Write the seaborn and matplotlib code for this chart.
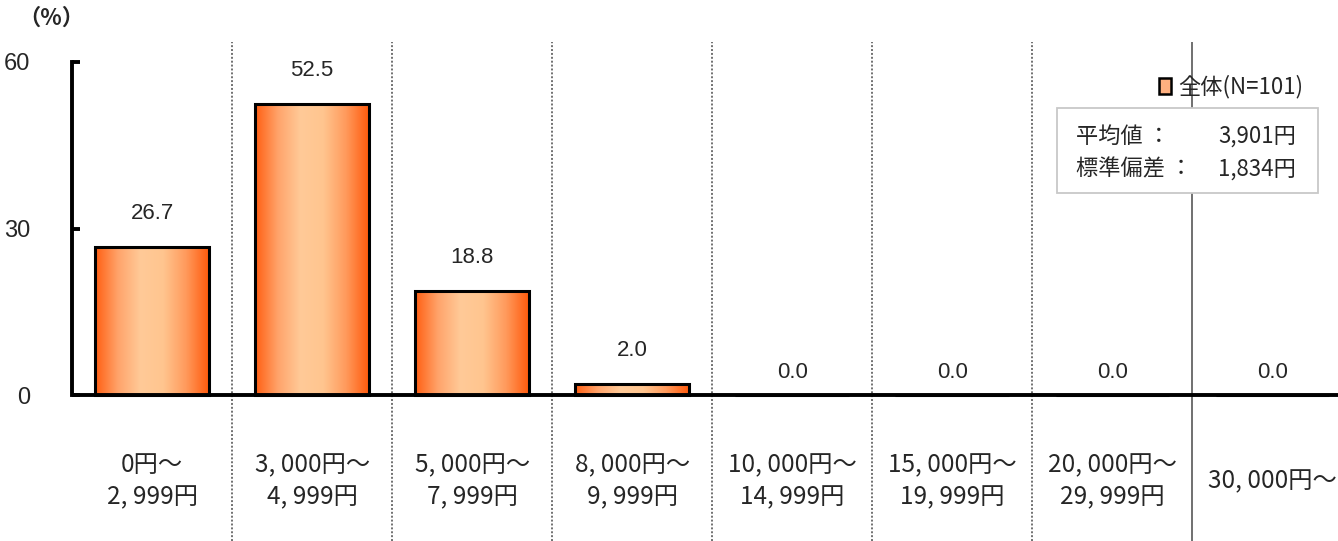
import numpy as np
import pandas as pd
import seaborn as sns
import matplotlib.pyplot as plt
from matplotlib.patches import Patch, Rectangle
from matplotlib.colors import LinearSegmentedColormap

# データ
categories = ['0円～\n2,999円', '3,000円～\n4,999円', '5,000円～\n7,999円', '8,000円～\n9,999円',
              '10,000円～\n14,999円', '15,000円～\n19,999円', '20,000円～\n29,999円', '30,000円～']
values = [26.7, 52.5, 18.8, 2.0, 0.0, 0.0, 0.0, 0.0]
yticks = [0, 30, 60]
legend_label = '全体(N=101)'
stats_names = ['平均値 ：', '標準偏差 ：']
stats_values = ['3,901円', '1,834円']

df = pd.DataFrame({'cat': categories, 'val': values})

sns.set_style('white')
plt.rcParams['font.family'] = ['Noto Sans CJK JP', 'DejaVu Sans']

fig = plt.figure(figsize=(13.38, 5.41), dpi=100)
ax = fig.add_axes([72 / 1338, 0, 1 - 72 / 1338, 1 - 42 / 541])

sns.barplot(data=df, x='cat', y='val', ax=ax, width=0.71, color='#FFB080',
            edgecolor='black', linewidth=2.2)

# グラデーション
cmap = LinearSegmentedColormap.from_list('og', ['#FF5E12', '#FFA36A', '#FFCA98', '#FFC58F', '#FF9A5C', '#FF5A0C'])
grad = np.linspace(0, 1, 256).reshape(1, -1)
for p in ax.patches:
    h = p.get_height()
    if h <= 0:
        continue
    x0 = p.get_x()
    im = ax.imshow(grad, cmap=cmap, aspect='auto', extent=[x0, x0 + p.get_width(), 0, h], zorder=2.9)
    im.set_clip_path(p)
    p.set_facecolor('none')
    p.set_zorder(3)
ax.set_xlim(-0.5, 7.41)
ax.set_ylim(-26.3, 63.6)

# 値ラベル
for i, v in enumerate(values):
    ax.annotate(f'{v:.1f}', (i, v), xytext=(0, 16.5 if v == 0 else 24), textcoords='offset points',
                ha='center', va='center', fontsize=16, family=['Liberation Sans'])

# 区切り線
for i in range(7):
    ls = '-' if i == 6 else (0, (1, 1))
    ax.axvline(i + 0.5, color='#707070', lw=1.4, ls=ls, zorder=1)

ax.axhline(0, color='black', lw=2.8, zorder=4)

# カテゴリラベル
for i, c in enumerate(categories):
    ax.text(i, -15.5, c.replace(',', ', '), ha='center', va='center', fontsize=17.5, linespacing=1.3)

ax.set_xticks([])
ax.set_xlabel('')
ax.set_ylabel('')
ax.set_yticks(yticks)
ax.set_yticklabels([str(t) for t in yticks], family=['Liberation Sans'], fontsize=17)
ax.tick_params(axis='y', left=True, direction='in', length=6, width=2.8, pad=30, color='black')
for s in ['top', 'right', 'bottom']:
    ax.spines[s].set_visible(False)
ax.spines['left'].set_bounds(0, 60)
ax.spines['left'].set_linewidth(2.8)
ax.spines['left'].set_color('black')

# 凡例
ax.legend(handles=[Patch(facecolor='#FFB080', edgecolor='black', lw=1.8)], labels=[legend_label],
          loc='center right', bbox_to_anchor=(1312 / 1338, 1 - 87 / 541), bbox_transform=fig.transFigure,
          frameon=False, handlelength=0.55, handleheight=0.75, handletextpad=0.3, fontsize=16, borderaxespad=0)

# 統計ボックス
fig.add_artist(Rectangle((1057 / 1338, 1 - 193 / 541), 261 / 1338, 85 / 541, transform=fig.transFigure,
                         facecolor='white', edgecolor='#C8C8C8', lw=1.3, zorder=5))
for k, (n, v) in enumerate(zip(stats_names, stats_values)):
    yy = 1 - (136 + 33 * k) / 541
    fig.text(1076 / 1338, yy, n, ha='left', va='center', fontsize=16, zorder=6)
    fig.text(1296 / 1338, yy, v, ha='right', va='center', fontsize=16, zorder=6)

fig.text(18 / 1338, 1 - 18 / 541, '（%）', ha='left', va='center', fontsize=16, fontweight='bold')

fig.savefig('out.png', dpi=100)
